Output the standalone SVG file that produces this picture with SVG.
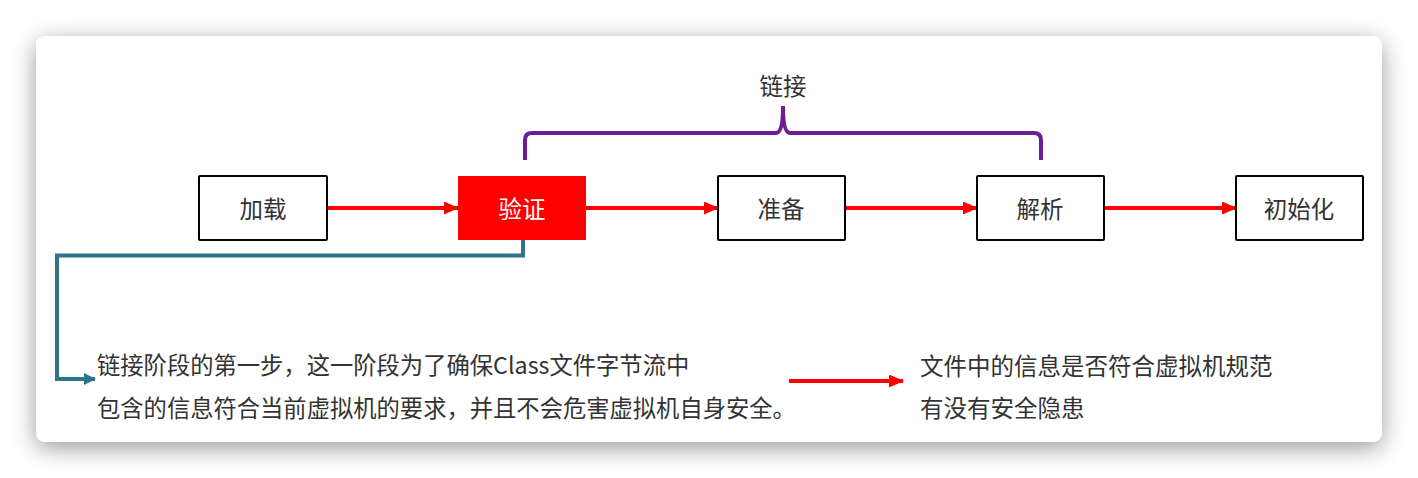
<svg xmlns="http://www.w3.org/2000/svg" width="1418" height="478" viewBox="0 0 1418 478">
<defs>
<filter id="sh" x="-10%" y="-20%" width="120%" height="150%">
<feGaussianBlur in="SourceAlpha" stdDeviation="12"/>
<feOffset dy="6" result="b"/>
<feComponentTransfer><feFuncA type="linear" slope="0.4"/></feComponentTransfer>
<feMerge><feMergeNode/><feMergeNode in="SourceGraphic"/></feMerge>
</filter>
<marker id="ar" markerWidth="15" markerHeight="13" refX="14" refY="6.5" orient="auto" markerUnits="userSpaceOnUse">
<path d="M0,0 L15,6.5 L0,13 Z" fill="#FF0000"/>
</marker>
<marker id="at" markerWidth="12" markerHeight="12" refX="11" refY="6" orient="auto" markerUnits="userSpaceOnUse">
<path d="M0,0 L12,6 L0,12 Z" fill="#2E7489"/>
</marker>
</defs>
<style>
.box{fill:#fff;stroke:#000;stroke-width:2}
.lbl{font-family:"Microsoft YaHei","Noto Sans CJK SC",sans-serif;font-size:23.5px;fill:#333;text-anchor:middle;dominant-baseline:central}
.txt{font-family:"Microsoft YaHei","Noto Sans CJK SC",sans-serif;font-size:23.3px;fill:#333}
.red{stroke:#FF0000;stroke-width:4;fill:none;marker-end:url(#ar)}
</style>
<rect x="0" y="0" width="1418" height="478" fill="#fff"/>
<rect x="36" y="36" width="1346" height="406" rx="9" fill="#fff" filter="url(#sh)"/>
<g id="connectors">
<line class="red" x1="327" y1="208" x2="458" y2="208"/>
<line class="red" x1="586" y1="208" x2="718" y2="208"/>
<line class="red" x1="845" y1="208" x2="977" y2="208"/>
<line class="red" x1="1104" y1="208" x2="1236" y2="208"/>
<line class="red" x1="789" y1="381" x2="903" y2="381"/>
<path d="M523,240 V255.5 H57 V379 H95" fill="none" stroke="#2E7489" stroke-width="4" marker-end="url(#at)"/>
<path d="M525,160 V140 Q525,133 532,133 H776 Q783,133 783,106 Q783,133 790,133 H1034 Q1041,133 1041,140 V160" fill="none" stroke="#6A1E96" stroke-width="4"/>
</g>
<g id="n-load"><rect class="box" x="199" y="176" width="128" height="64" rx="1"/><text class="lbl" x="263" y="208">加载</text></g>
<g id="n-verify"><rect x="458" y="176" width="128" height="64" fill="#FF0000"/><text class="lbl" x="522" y="208" style="fill:#fff">验证</text></g>
<g id="n-prepare"><rect class="box" x="718" y="176" width="127" height="64" rx="1"/><text class="lbl" x="781" y="208">准备</text></g>
<g id="n-resolve"><rect class="box" x="977" y="176" width="127" height="64" rx="1"/><text class="lbl" x="1040" y="208">解析</text></g>
<g id="n-init"><rect class="box" x="1236" y="176" width="127" height="64" rx="1"/><text class="lbl" x="1299" y="208">初始化</text></g>
<g id="n-link"><text class="lbl" x="783" y="85">链接</text></g>
<g id="n-desc">
<text class="txt" x="97" y="374">链接阶段的第一步，这一阶段为了确保Class文件字节流中</text>
<text class="txt" x="97" y="417">包含的信息符合当前虚拟机的要求，并且不会危害虚拟机自身安全。</text>
</g>
<g id="n-note">
<text class="txt" x="920" y="375" style="font-size:23.5px">文件中的信息是否符合虚拟机规范</text>
<text class="txt" x="920" y="417" style="font-size:23.5px">有没有安全隐患</text>
</g>
</svg>
